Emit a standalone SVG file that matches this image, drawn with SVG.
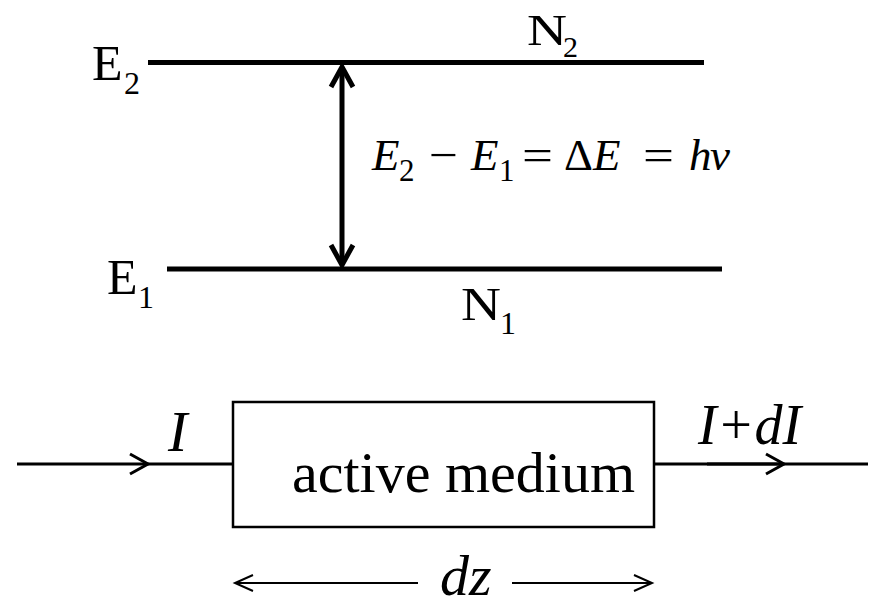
<svg xmlns="http://www.w3.org/2000/svg" width="877" height="603" viewBox="0 0 877 603">
<style>
text{font-family:'Liberation Serif','DejaVu Serif',serif;fill:#000}
.it{font-style:italic}
.lvl{stroke:#000;stroke-width:5;fill:none}
.ln{stroke:#000;stroke-width:3;fill:none}
.thin{stroke:#000;stroke-width:2;fill:none}
</style>
<rect width="877" height="603" fill="#fff"/>
<g id="level-E2">
<line class="lvl" x1="148" y1="62.5" x2="704" y2="62.5"/>
<text x="92" y="80" font-size="50" font-family="Liberation Serif">E</text>
<text x="124" y="94" font-size="32" font-family="Liberation Serif">2</text>
<text x="527" y="45" font-size="45" font-family="Liberation Serif" textLength="40" lengthAdjust="spacingAndGlyphs">N</text>
<text x="563" y="57" font-size="30" font-family="Liberation Serif">2</text>
</g>
<g id="level-E1">
<line class="lvl" x1="167" y1="269" x2="722" y2="269"/>
<text x="107" y="294" font-size="50" font-family="Liberation Serif">E</text>
<text x="138" y="308" font-size="32" font-family="Liberation Serif">1</text>
<text x="461" y="320" font-size="46" font-family="Liberation Serif" textLength="40" lengthAdjust="spacingAndGlyphs">N</text>
<text x="500" y="334" font-size="32" font-family="Liberation Serif">1</text>
</g>
<g id="equation">
<text class="it" x="372" y="170" font-size="45" font-family="Liberation Serif">E</text>
<text x="399" y="181" font-size="31" font-family="Liberation Serif">2</text>
<text x="429" y="170" font-size="45" font-family="Liberation Serif" textLength="29" lengthAdjust="spacingAndGlyphs">−</text>
<text class="it" x="471" y="170" font-size="45" font-family="Liberation Serif">E</text>
<text x="499" y="181" font-size="31" font-family="Liberation Serif">1</text>
<text x="522" y="170" font-size="45" font-family="Liberation Serif" textLength="31" lengthAdjust="spacingAndGlyphs">=</text>
<text x="564" y="170" font-size="45" font-family="Liberation Serif">Δ</text>
<text class="it" x="593" y="170" font-size="45" font-family="Liberation Serif">E</text>
<text x="643" y="170" font-size="45" font-family="Liberation Serif" textLength="31" lengthAdjust="spacingAndGlyphs">=</text>
<text class="it" x="689" y="170" font-size="45" font-family="Liberation Serif">h</text>
<text class="it" x="710" y="170" font-size="45" font-family="Liberation Serif">ν</text>
</g>
<g id="medium">
<rect x="233" y="402" width="421" height="125" fill="none" stroke="#000" stroke-width="2.5"/>
<text x="292" y="492" font-size="58" font-family="Liberation Serif">active medium</text>
</g>
<g id="labels">
<text class="it" x="168" y="451" font-size="58" font-family="Liberation Serif">I</text>
<text class="it" x="698" y="444" font-size="56" font-family="Liberation Serif">I+dI</text>
<text class="it" x="440" y="595" font-size="58" font-family="Liberation Serif">dz</text>
</g>
<g id="connectors">
<line class="lvl" x1="342" y1="67" x2="342" y2="265"/>
<polyline class="lvl" points="331,87 342,67 353,87"/>
<polyline class="lvl" points="331,245 342,265 353,245"/>
<line class="ln" x1="17" y1="464" x2="233" y2="464"/>
<polyline class="ln" points="130,454 148,464 130,474"/>
<line class="ln" x1="654" y1="464" x2="868" y2="464"/>
<line class="ln" x1="707" y1="464" x2="782" y2="464" stroke-width="4"/>
<polyline class="ln" points="766,454 784,464 766,474"/>
<line class="thin" x1="235" y1="583" x2="418" y2="583"/>
<polyline class="thin" points="253,575 235,583 253,591"/>
<line class="thin" x1="512" y1="583" x2="652" y2="583"/>
<polyline class="thin" points="634,575 652,583 634,591"/>
</g>
</svg>
